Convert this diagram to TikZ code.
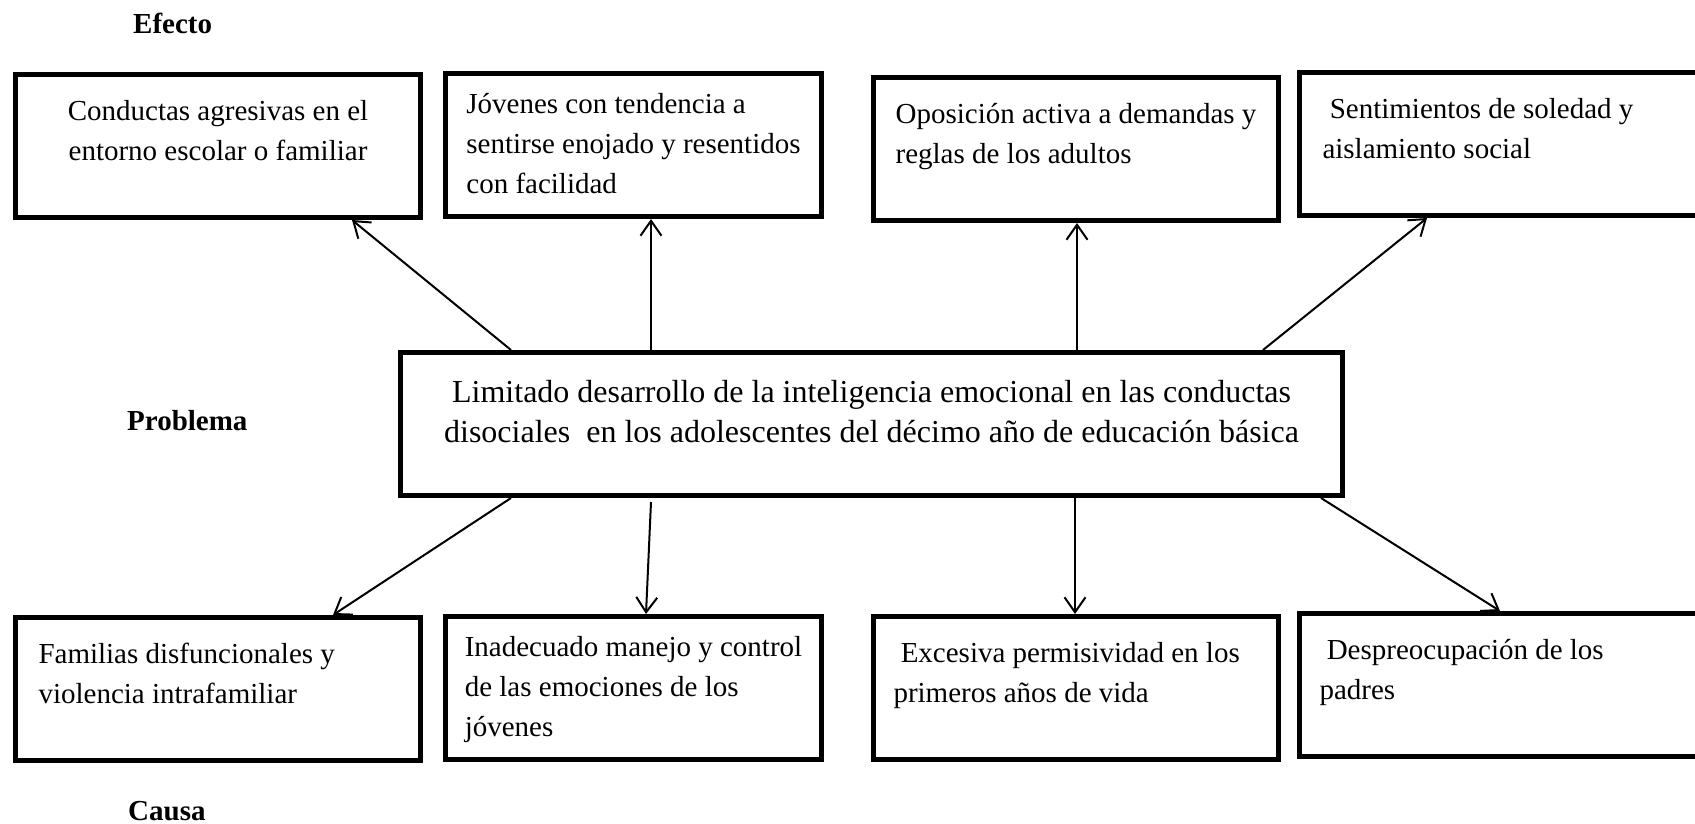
\documentclass[tikz,border=0pt]{standalone}
\usepackage{fontspec}
\setmainfont{Liberation Serif}
\usetikzlibrary{arrows.meta}

\begin{document}
\begin{tikzpicture}[x=1pt, y=-1pt,
	every node/.style={font=\fontsize{29}{40}\selectfont},
	caja/.style={shape=rectangle, draw=black, line width=5pt, anchor=north west, inner ysep=0pt},
	doslineas/.style={text height=86pt, text depth=57pt},
	treslineas/.style={text height=120pt, text depth=23pt},
	abierta/.style={align=flush left, text width=#1, text height=46pt, text depth=97pt},
	titulo/.style={anchor=base west, inner sep=0pt, font=\fontsize{29}{40}\selectfont\bfseries},
	flecha/.style={-{Straight Barb[length=15pt, width=21pt]}, line width=2pt}]
	\useasboundingbox (0, 0) rectangle (1695, 824);

	\node[titulo] (efecto)   at (133, 34)  {Efecto};
	\node[titulo] (problema) at (127, 430) {Problema};
	\node[titulo] (causa)    at (128, 820) {Causa};

	\node[caja, doslineas, align=center, minimum width=405pt] (e1) at (13, 72)   {Conductas agresivas en el\\entorno escolar o familiar};
	\node[caja, treslineas, align=left, minimum width=376pt] (e2) at (443, 71) {Jóvenes con tendencia a\\sentirse enojado y resentidos\\con facilidad};
	\node[caja, doslineas, align=left, minimum width=405pt] (e3) at (871, 75)   {Oposición activa a demandas y\\reglas de los adultos};
	\node[caja, abierta=380pt, inner xsep=23pt] (e4) at (1297, 70) {\ Sentimientos de soledad y\\aislamiento social};

	\node[caja, text height=90pt, text depth=53pt, align=left, minimum width=942pt, font=\fontsize{32}{40}\selectfont] (prob) at (398, 350) {\ Limitado desarrollo de la inteligencia emocional en las conductas\\disociales\ \ en los adolescentes del décimo año de educación básica};

	\node[caja, abierta=359pt, inner xsep=23pt] (c1) at (13, 615) {Familias disfuncionales y\\violencia intrafamiliar};
	\node[caja, treslineas, align=left, minimum width=376pt] (c2) at (443, 614) {Inadecuado manejo y control\\de las emociones de los\\jóvenes};
	\node[caja, abierta=365pt, inner xsep=20pt] (c3) at (871, 614)  {\ Excesiva permisividad en los\\primeros años de vida};
	\node[caja, abierta=380pt, inner xsep=20pt] (c4) at (1297, 611) {\ Despreocupación de los\\padres};

	\path[flecha] ([xshift=113pt]prob.north west) edge ([xshift=339pt]e1.south west);
	\path[flecha] ([xshift=253pt]prob.north west) edge ([xshift=208pt]e2.south west);
	\path[flecha] ([xshift=679pt]prob.north west) edge ([xshift=206pt]e3.south west);
	\path[flecha] ([xshift=865pt]prob.north west) edge ([xshift=130pt]e4.south west);

	\path[flecha] ([xshift=113pt]prob.south west) edge ([xshift=320pt]c1.north west);
	\path[flecha] ([xshift=253pt, yshift=-4pt]prob.south west) edge ([xshift=203pt]c2.north west);
	\path[flecha] ([xshift=677pt]prob.south west) edge ([xshift=204pt]c3.north west);
	\path[flecha] ([xshift=923pt]prob.south west) edge ([xshift=203pt]c4.north west);

\end{tikzpicture}
\end{document}
